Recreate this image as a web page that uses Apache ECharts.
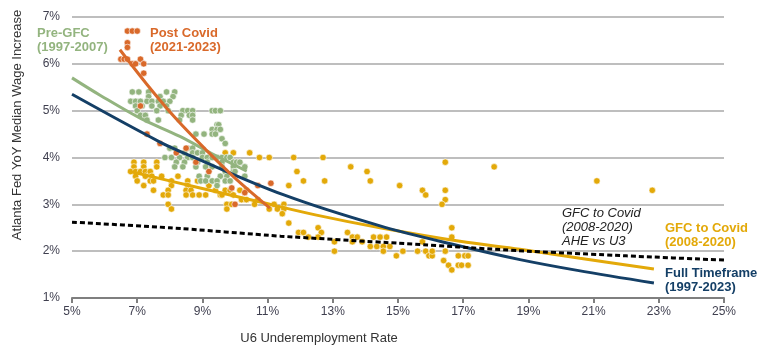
<!DOCTYPE html>
<html>
<head>
<meta charset="utf-8">
<script src="https://cdn.jsdelivr.net/npm/echarts@6/dist/echarts.min.js"></script>
<style>html,body{margin:0;padding:0;background:#fff}#c{width:770px;height:355px}</style>
</head>
<body>
<div id="c"></div>
<script>
// ---- Data (U6 underemployment %, Atlanta Fed wage growth %) ----
const xTicks = [5, 7, 9, 11, 13, 15, 17, 19, 21, 23, 25];
const yTicks = [1, 2, 3, 4, 5, 6, 7];

const preGfcPoints = [
  [6.85,5.4],[7.05,5.4],[7.35,5.4],[7.9,5.4],[8.15,5.4],
  [7.35,5.3],[7.7,5.3],[8.1,5.3],
  [6.8,5.2],[6.95,5.2],[7.1,5.2],[7.3,5.2],[7.45,5.2],[7.65,5.2],[7.8,5.2],[8.0,5.2],
  [6.95,5.1],[7.15,5.1],[7.45,5.1],[7.7,5.1],[7.9,5.1],
  [7.0,5.0],[7.6,5.0],[7.95,5.0],[8.4,5.0],[8.55,5.0],[8.7,5.0],[9.3,5.0],[9.4,5.0],[9.55,5.0],
  [7.1,4.9],[7.25,4.9],[8.35,4.9],[8.6,4.9],[8.7,4.9],
  [7.3,4.8],[7.65,4.8],[8.3,4.8],[8.7,4.8],
  [9.45,4.7],[9.5,4.7],
  [9.3,4.6],[9.45,4.6],[9.55,4.6],
  [8.8,4.5],[9.05,4.5],[9.3,4.5],[9.4,4.5],
  [9.6,4.4],[9.7,4.3],
  [8.0,4.2],[8.15,4.2],[8.55,4.2],[8.7,4.2],
  [8.2,4.1],[8.45,4.1],[8.7,4.1],[8.85,4.1],[9.0,4.1],
  [7.85,4.0],[8.05,4.0],[8.3,4.0],[8.55,4.0],[8.7,4.0],[9.0,4.0],[9.15,4.0],[9.3,4.0],[9.45,4.0],[9.6,4.0],[9.75,4.0],[9.85,4.0],
  [8.2,3.9],[8.45,3.9],[8.85,3.9],[9.15,3.9],[9.6,3.9],[9.95,3.9],[10.05,3.9],[10.15,3.9],
  [8.15,3.8],[8.4,3.8],[8.8,3.8],[9.1,3.8],[9.3,3.8],[9.6,3.8],[9.95,3.8],[10.3,3.8],
  [9.7,3.7],[9.95,3.7],[10.0,3.7],
  [8.9,3.6],[9.15,3.6],[9.55,3.6],[9.75,3.6],[10.3,3.6],
  [8.95,3.5],[9.1,3.5],[9.3,3.5],[9.45,3.5],[9.7,3.5],[9.85,3.5],
  [9.45,3.4]
];

const gfcCovidPoints = [
  [6.9,3.9],[7.2,3.9],[7.6,3.9],
  [6.9,3.8],[7.2,3.8],[7.6,3.8],
  [6.8,3.7],[6.95,3.7],[7.1,3.7],[7.25,3.7],[7.4,3.7],
  [6.95,3.6],[7.25,3.6],[7.45,3.6],[7.75,3.6],[8.25,3.6],
  [7.0,3.5],[7.4,3.5],[7.5,3.5],[8.05,3.5],[8.55,3.5],[8.85,3.5],
  [7.2,3.4],[8.05,3.4],[8.55,3.4],
  [7.5,3.3],[7.95,3.3],[8.5,3.3],[8.65,3.3],
  [7.8,3.2],[7.95,3.2],[8.5,3.2],[8.7,3.2],
  [7.95,3.0],[8.05,2.9],
  [9.7,4.1],[9.95,4.1],[10.45,4.1],[10.75,4.0],[11.05,4.0],[11.8,4.0],[12.7,4.0],
  [9.2,3.4],[9.4,3.3],[9.7,3.3],[9.85,3.3],[10.15,3.3],[10.35,3.3],
  [8.9,3.2],[9.1,3.2],[9.55,3.2],[9.6,3.2],[9.95,3.2],
  [10.2,3.1],[10.35,3.1],[10.7,3.1],
  [9.75,3.0],[9.9,3.0],[10.6,3.0],[11.2,3.0],[11.5,3.0],
  [9.75,2.9],[11.05,2.9],[11.3,2.9],[11.5,2.9],
  [11.9,3.7],[11.65,3.4],[12.1,3.5],[12.75,3.5],[13.55,3.8],[14.05,3.7],[14.15,3.5],
  [15.05,3.4],[15.75,3.3],[15.85,3.2],[16.45,3.9],[16.45,3.3],[16.45,3.1],[16.35,3.0],
  [17.95,3.8],[21.1,3.5],[22.8,3.3],
  [11.45,2.8],[11.65,2.6],[16.65,2.5],[16.65,2.3],
  [11.95,2.4],[12.1,2.4],[12.55,2.5],[12.65,2.4],[12.25,2.3],[12.55,2.3],[13.05,2.2],[13.05,2.0],
  [13.45,2.4],[13.6,2.3],[13.75,2.3],[13.6,2.2],[13.9,2.2],[14.15,2.1],[14.25,2.3],[14.35,2.1],
  [14.45,2.3],[14.55,2.1],[14.55,2.0],[14.65,2.3],[14.75,2.1],[14.95,1.9],[15.15,2.0],[15.6,2.0],
  [15.75,2.2],[15.85,2.0],[15.95,1.9],[16.05,1.9],[16.05,2.0],[16.4,1.8],[16.45,2.0],[16.55,1.7],
  [16.65,1.6],[16.85,1.9],[16.85,1.7],[17.05,1.9],[16.95,1.7],[17.15,1.7],[17.15,1.9]
];

const postCovidPoints = [
  [6.7,6.7],[6.85,6.7],[7.0,6.7],
  [6.7,6.45],[6.7,6.35],
  [6.5,6.1],[6.6,6.1],[6.7,6.1],[6.85,6.0],[6.95,6.0],[7.1,6.1],[7.2,6.0],[7.2,5.8],
  [7.1,5.1],[7.3,4.5],[7.7,4.3],[8.2,4.1],[8.5,4.2],[8.8,3.9],[9.2,3.7],
  [9.9,3.35],[10.0,3.0],[10.3,3.25],[10.7,3.4],[11.1,3.45]
];

// fitted curves
const preGfcFit = [[5,5.70],[5.86,5.33],[7.09,4.84],[8.31,4.45],[9.3,4.08],[10.36,3.71]];
const postCovidFit = [[6.47,6.30],[7.3,5.56],[8.2,4.82],[9.1,4.17],[10.0,3.56],[11.07,2.92]];
const gfcCovidFit = [[6.72,3.71],[8.93,3.35],[10.77,3.05],[12.5,2.77],[14.45,2.5],[16.9,2.21],[18.74,2.04],[20.58,1.85],[22.85,1.62]];
const fullFit = [[5,5.35],[7.7,4.33],[8.62,4.04],[11.5,3.2],[14.45,2.54],[16.9,2.11],[18.74,1.82],[20.5,1.59],[22.85,1.32]];
const aheU3Fit = [[5,2.62],[8,2.5],[11.4,2.32],[15,2.17],[18.7,2.01],[22,1.9],[25,1.81]];

// ---- Styling ----
const C = { green:'#93b47f', orange:'#d9692a', gold:'#e3a909', navy:'#143f66', black:'#000' };
const FONT = 'Liberation Sans, Arial, sans-serif';

function scatter(data, color, z) {
  return { type:'scatter', data, symbolSize:6.5, z,
    itemStyle:{ color, borderColor:'#ffffff', borderWidth:0.6, opacity:1 }, silent:true };
}
function fit(data, color, extra) {
  return Object.assign({ type:'line', data, smooth:0.35, showSymbol:false, z:10, silent:true,
    lineStyle:{ color, width:3 } }, extra || {});
}

const chart = echarts.init(document.getElementById('c'), null, { renderer:'canvas' });
chart.setOption({
  animation:false,
  grid:{ left:72, right:46, top:17, bottom:57 },
  xAxis:{ type:'value', min:xTicks[0], max:xTicks[xTicks.length-1], interval:2,
    axisLine:{ show:true, lineStyle:{ color:'#7f7f7f', width:2 } },
    axisTick:{ show:true, length:5, lineStyle:{ color:'#7f7f7f', width:2 } },
    axisLabel:{ formatter:'{value}%', color:'#3f3f4f', fontSize:12, fontFamily:FONT, margin:8 },
    splitLine:{ show:false } },
  yAxis:{ type:'value', min:yTicks[0], max:yTicks[yTicks.length-1], interval:1,
    axisLine:{ show:false }, axisTick:{ show:false },
    axisLabel:{ formatter:'{value}%', color:'#3f3f4f', fontSize:12, fontFamily:FONT, margin:12 },
    splitLine:{ show:true, lineStyle:{ color:'#a9a9a9', width:1.5 } } },
  series:[
    scatter(gfcCovidPoints, C.gold, 2),
    scatter(preGfcPoints, C.green, 3),
    scatter(postCovidPoints, C.orange, 4),
    fit(gfcCovidFit, C.gold),
    fit(preGfcFit, C.green),
    fit(fullFit, C.navy),
    fit(postCovidFit, C.orange),
    fit(aheU3Fit, C.black, { lineStyle:{ color:C.black, width:3, type:[5,3] }, smooth:0.2 })
  ],
  graphic:[
    { type:'text', x:17, y:125, rotation:Math.PI/2,
      style:{ text:'Atlanta Fed YoY Median Wage Increase', fill:'#333', font:'13px '+FONT, align:'center', verticalAlign:'middle' } },
    { type:'text', x:319, y:338,
      style:{ text:'U6 Underemployment Rate', fill:'#333', font:'13px '+FONT, align:'center', verticalAlign:'middle' } },
    { type:'text', x:37, y:26,
      style:{ text:'Pre-GFC\n(1997-2007)', fill:C.green, font:'bold 13px '+FONT, lineHeight:14 } },
    { type:'text', x:150, y:26,
      style:{ text:'Post Covid\n(2021-2023)', fill:C.orange, font:'bold 13px '+FONT, lineHeight:14 } },
    { type:'text', x:562, y:206,
      style:{ text:'GFC to Covid\n(2008-2020)\nAHE vs U3', fill:'#222', font:'italic 13px '+FONT, lineHeight:14 } },
    { type:'text', x:665, y:221,
      style:{ text:'GFC to Covid\n(2008-2020)', fill:C.gold, font:'bold 13px '+FONT, lineHeight:14 } },
    { type:'text', x:665, y:266,
      style:{ text:'Full Timeframe\n(1997-2023)', fill:C.navy, font:'bold 13px '+FONT, lineHeight:14 } }
  ]
});
</script>
</body>
</html>
